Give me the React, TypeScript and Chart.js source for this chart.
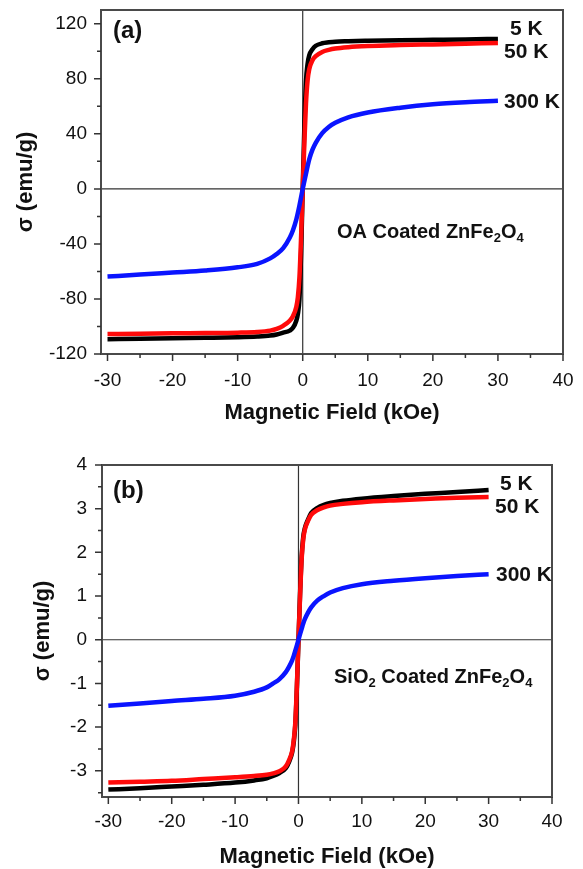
import { useEffect, useRef } from 'react';
import { Chart, registerables } from 'chart.js';

Chart.register(...registerables);

// ---------- data ----------
const fieldKOe = [-30, -25, -20, -15, -10, -7, -5, -4, -3, -2, -1.5, -1, -0.75, -0.5, -0.25, 0, 0.25, 0.5, 0.75, 1, 1.5, 2, 3, 4, 5, 7, 10, 15, 20, 25, 30];

// (a) OA coated ZnFe2O4, sigma in emu/g
const oa5K = [-109.2, -108.9, -108.5, -108.2, -107.8, -107.3, -106.6, -105.8, -104.5, -103, -101, -96, -91, -80, -47, 0, 45, 78, 91, 97, 101.5, 104, 105.8, 106.5, 107, 107.3, 107.6, 108, 108.3, 108.6, 109];
const oa50K = [-105.5, -105.3, -105, -104.8, -104.5, -104, -103, -101.8, -99.5, -95.8, -92.5, -86, -79, -64, -35, 0, 33, 62, 79, 87, 93.5, 96.5, 99.5, 101, 102, 103, 103.8, 104.5, 105, 105.5, 106];
const oa300K = [-63.7, -62.3, -60.8, -59.3, -57, -54.5, -50.5, -47.3, -43, -35.5, -30, -22.5, -17.5, -12, -6, 0, 5.5, 11, 16.5, 21.5, 28.5, 33.5, 40.5, 45, 48, 52, 55.5, 59, 61.5, 63, 64];

// (b) SiO2 coated ZnFe2O4, sigma in emu/g
const si5K = [-3.43, -3.4, -3.36, -3.32, -3.27, -3.22, -3.17, -3.12, -3.05, -2.94, -2.8, -2.58, -2.35, -1.95, -1.1, 0, 1.05, 1.9, 2.35, 2.55, 2.75, 2.9, 3.02, 3.09, 3.13, 3.18, 3.23, 3.29, 3.34, 3.38, 3.43];
const si50K = [-3.27, -3.25, -3.23, -3.19, -3.15, -3.12, -3.09, -3.06, -3.01, -2.9, -2.76, -2.55, -2.3, -1.9, -1.05, 0, 1.0, 1.85, 2.3, 2.52, 2.72, 2.86, 2.97, 3.03, 3.07, 3.11, 3.15, 3.19, 3.22, 3.25, 3.27];
const si300K = [-1.51, -1.46, -1.4, -1.35, -1.28, -1.19, -1.09, -1.0, -0.9, -0.74, -0.62, -0.47, -0.37, -0.25, -0.13, 0, 0.13, 0.25, 0.37, 0.47, 0.62, 0.74, 0.9, 1.0, 1.08, 1.18, 1.27, 1.35, 1.41, 1.46, 1.5];

// ticks
const xTicks = [-30, -25, -20, -15, -10, -5, 0, 5, 10, 15, 20, 25, 30, 35, 40];
const xTickLabels = [-30, -20, -10, 0, 10, 20, 30, 40];
const yTicksOA = [-120, -100, -80, -60, -40, -20, 0, 20, 40, 60, 80, 100, 120];
const yTickLabelsOA = [-120, -80, -40, 0, 40, 80, 120];
const yTicksSi = [-3.5, -3, -2.5, -2, -1.5, -1, -0.5, 0, 0.5, 1, 1.5, 2, 2.5, 3, 3.5, 4];
const yTickLabelsSi = [-3, -2, -1, 0, 1, 2, 3, 4];

const seriesLabels = ['300 K', '50 K', '5 K'];
const seriesColors = ['#0a14ff', '#ff0a0a', '#000000'];

const FONT = '"Liberation Sans", Arial, Helvetica, sans-serif';

type Part = { t: string; sub?: boolean };

function drawParts(ctx: CanvasRenderingContext2D, parts: Part[], x: number, y: number, size: number, subSize: number) {
  let cx = x;
  for (const p of parts) {
    ctx.font = `bold ${p.sub ? subSize : size}px ${FONT}`;
    ctx.fillText(p.t, cx, p.sub ? y + size * 0.32 : y);
    cx += ctx.measureText(p.t).width;
  }
}

const decorPlugin = {
  id: 'decor',
  beforeDatasetsDraw(chart: any) {
    const { ctx, chartArea: a, scales } = chart;
    const x0 = scales.x.getPixelForValue(0);
    const y0 = scales.y.getPixelForValue(0);
    ctx.save();
    ctx.strokeStyle = '#333';
    ctx.lineWidth = 1.2;
    ctx.beginPath();
    ctx.moveTo(a.left, y0);
    ctx.lineTo(a.right, y0);
    ctx.moveTo(x0, a.top);
    ctx.lineTo(x0, a.bottom);
    ctx.stroke();
    ctx.restore();
  },
  afterDraw(chart: any, _args: any, opts: any) {
    const { ctx, chartArea: a, scales } = chart;
    ctx.save();
    // frame
    ctx.strokeStyle = '#4a4a4a';
    ctx.lineWidth = 2;
    ctx.strokeRect(a.left, a.top, a.right - a.left, a.bottom - a.top);
    // tick marks
    ctx.strokeStyle = '#333';
    ctx.lineWidth = 1.5;
    ctx.beginPath();
    for (const v of opts.xTicks) {
      const px = scales.x.getPixelForValue(v);
      const len = opts.xMajor.includes(v) ? 7 : 4;
      ctx.moveTo(px, a.bottom);
      ctx.lineTo(px, a.bottom + len);
    }
    for (const v of opts.yTicks) {
      const py = scales.y.getPixelForValue(v);
      const len = opts.yMajor.includes(v) ? 7 : 4;
      ctx.moveTo(a.left, py);
      ctx.lineTo(a.left - len, py);
    }
    ctx.stroke();

    ctx.fillStyle = '#111';
    ctx.textBaseline = 'middle';
    // axis titles
    ctx.textAlign = 'center';
    ctx.font = `bold 22px ${FONT}`;
    ctx.fillText('Magnetic Field (kOe)', opts.xTitle[0], opts.xTitle[1]);
    ctx.save();
    ctx.translate(opts.yTitle[0], opts.yTitle[1]);
    ctx.rotate(-Math.PI / 2);
    ctx.fillText('σ (emu/g)', 0, 0);
    ctx.restore();

    // annotations
    ctx.textAlign = 'left';
    ctx.font = `bold 24px ${FONT}`;
    ctx.fillText(opts.panel, opts.panelPos[0], opts.panelPos[1]);
    ctx.font = `bold 21px ${FONT}`;
    opts.seriesPos.forEach((p: number[], i: number) => {
      ctx.fillText(seriesLabels[i], p[0], p[1]);
    });
    drawParts(ctx, opts.sample, opts.samplePos[0], opts.samplePos[1], 20, 13);
    ctx.restore();
  },
};

function makeConfig(p: any) {
  const series = [p.s300, p.s50, p.s5];
  return {
    type: 'line',
    data: {
      datasets: series.map((arr: number[], i: number) => ({
        label: seriesLabels[i],
        data: fieldKOe.map((h, k) => ({ x: h, y: arr[k] })),
        borderColor: seriesColors[i],
        backgroundColor: seriesColors[i],
        borderWidth: 4.5,
        pointRadius: 0,
        fill: false,
        cubicInterpolationMode: 'monotone',
      })),
    },
    options: {
      responsive: false,
      animation: false,
      devicePixelRatio: 1,
      layout: { padding: p.padding },
      plugins: {
        legend: { display: false },
        tooltip: { enabled: false },
        decor: {
          xTicks,
          xMajor: xTickLabels,
          yTicks: p.yTicks,
          yMajor: p.yLabels,
          xTitle: p.xTitle,
          yTitle: p.yTitle,
          panel: p.panel,
          panelPos: p.panelPos,
          seriesPos: p.seriesPos,
          sample: p.sample,
          samplePos: p.samplePos,
        },
      },
      scales: {
        x: {
          type: 'linear',
          min: -31,
          max: 40,
          afterBuildTicks: (s: any) => {
            s.ticks = xTicks.map((v) => ({ value: v }));
          },
          afterFit: (s: any) => {
            s.height = p.xHeight;
            s.paddingLeft = 0;
            s.paddingRight = 0;
          },
          ticks: {
            autoSkip: false,
            maxRotation: 0,
            padding: p.xPad,
            color: '#111',
            font: { family: FONT, size: 19 },
            callback: (v: number) => (xTickLabels.includes(v) ? String(v) : ''),
          },
          grid: { drawOnChartArea: false, drawTicks: true, tickLength: 7, tickColor: 'rgba(0,0,0,0)' },
          border: { display: false },
        },
        y: {
          type: 'linear',
          min: p.yMin,
          max: p.yMax,
          afterBuildTicks: (s: any) => {
            s.ticks = p.yTicks.map((v: number) => ({ value: v }));
          },
          afterFit: (s: any) => {
            s.width = p.yWidth;
            s.paddingTop = 0;
            s.paddingBottom = 0;
          },
          ticks: {
            autoSkip: false,
            padding: p.yPad,
            color: '#111',
            font: { family: FONT, size: 19 },
            callback: (v: number) => (p.yLabels.includes(v) ? String(v) : ''),
          },
          grid: { drawOnChartArea: false, drawTicks: true, tickLength: 7, tickColor: 'rgba(0,0,0,0)' },
          border: { display: false },
        },
      },
    },
    plugins: [decorPlugin],
  };
}

const panelA = {
  s5: oa5K, s50: oa50K, s300: oa300K,
  yMin: -120, yMax: 130, yTicks: yTicksOA, yLabels: yTickLabelsOA,
  padding: { left: 0, right: 20, top: 10, bottom: 0 },
  xHeight: 76, yWidth: 101, xPad: 8, yPad: 7,
  xTitle: [332, 413], yTitle: [26, 182],
  panel: '(a)', panelPos: [113, 31],
  seriesPos: [[504, 102.5], [504, 52.5], [510, 29.5]],
  sample: [{ t: 'OA Coated ZnFe' }, { t: '2', sub: true }, { t: 'O' }, { t: '4', sub: true }],
  samplePos: [337, 232],
};

const panelB = {
  s5: si5K, s50: si50K, s300: si300K,
  yMin: -3.6, yMax: 4, yTicks: yTicksSi, yLabels: yTickLabelsSi,
  padding: { left: 0, right: 31, top: 35, bottom: 0 },
  xHeight: 72, yWidth: 102, xPad: 6, yPad: 8,
  xTitle: [327, 427], yTitle: [43, 201],
  panel: '(b)', panelPos: [113, 61],
  seriesPos: [[496, 145], [495, 77], [500, 54]],
  sample: [{ t: 'SiO' }, { t: '2', sub: true }, { t: ' Coated ZnFe' }, { t: '2', sub: true }, { t: 'O' }, { t: '4', sub: true }],
  samplePos: [334, 247],
};

function Panel({ cfg, height }: { cfg: any; height: number }) {
  const ref = useRef<HTMLCanvasElement | null>(null);
  useEffect(() => {
    if (!ref.current) return;
    const chart = new Chart(ref.current, makeConfig(cfg) as any);
    return () => chart.destroy();
  }, [cfg]);
  return <canvas ref={ref} width={583} height={height} style={{ display: 'block', width: 583, height }} />;
}

export default function App() {
  return (
    <div style={{ position: 'absolute', left: 0, top: 0, width: 583, height: 869, background: '#fff' }}>
      <Panel cfg={panelA} height={430} />
      <Panel cfg={panelB} height={439} />
    </div>
  );
}
